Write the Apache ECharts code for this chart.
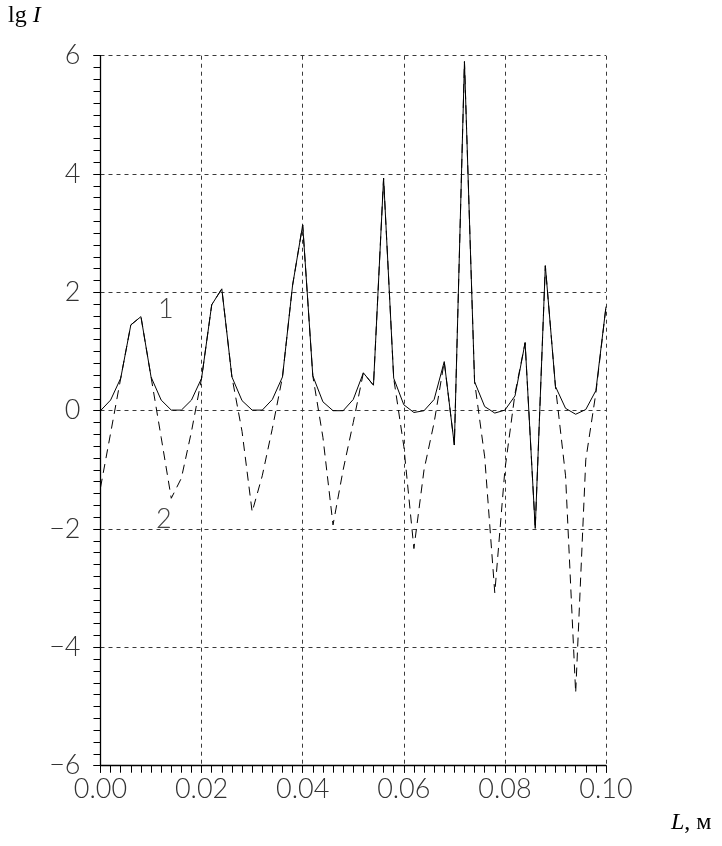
<!DOCTYPE html>
<html>
<head>
<meta charset="utf-8">
<script src="https://cdn.jsdelivr.net/npm/echarts@6/dist/echarts.min.js"></script>
<style>
html,body{margin:0;padding:0;background:#fff;}
#chart{width:722px;height:846px;}
</style>
</head>
<body>
<div id="chart"></div>
<script>
// L, m
const xValues = [0.000,0.002,0.004,0.006,0.008,0.010,0.012,0.014,0.016,0.018,
  0.020,0.022,0.024,0.026,0.028,0.030,0.032,0.034,0.036,0.038,
  0.040,0.042,0.044,0.046,0.048,0.050,0.052,0.054,0.056,0.058,
  0.060,0.062,0.064,0.066,0.068,0.070,0.072,0.074,0.076,0.078,
  0.080,0.082,0.084,0.086,0.088,0.090,0.092,0.094,0.096,0.098,0.100];
// curve 1 (solid)
const curve1 = [0.0,0.18,0.55,1.45,1.59,0.57,0.18,0.01,0.01,0.18,
  0.55,1.79,2.06,0.57,0.17,0.01,0.01,0.19,0.57,2.12,
  3.14,0.59,0.15,0.0,0.0,0.19,0.64,0.43,3.93,0.55,
  0.10,-0.03,0.0,0.19,0.83,-0.58,5.90,0.49,0.07,-0.04,
  0.01,0.25,1.15,-1.99,2.45,0.41,0.04,-0.06,0.02,0.34,1.76];
// curve 2 (dashed)
const curve2 = [-1.3,-0.38,0.55,1.45,1.59,0.57,-0.45,-1.48,-1.14,-0.35,
  0.55,1.79,2.06,0.57,-0.35,-1.71,-1.1,-0.3,0.57,2.12,
  3.14,0.59,-0.45,-1.93,-1.0,-0.2,0.64,0.43,3.93,0.55,
  -0.6,-2.33,-1.0,-0.2,0.83,-0.58,5.90,0.49,-0.78,-3.08,
  -1.0,0.29,1.15,-1.99,2.45,0.41,-1.1,-4.77,-0.83,0.3,1.76];
const curveNames = ['1','2'];

const chart = echarts.init(document.getElementById('chart'), null, {renderer:'canvas'});
const pairs = arr => xValues.map((x,i)=>[x, arr[i]]);
const tickFont = {fontFamily:'Lato', fontWeight:300, fontSize:27, color:'#333'};
const gridLine = {show:true, lineStyle:{color:'#3a3a3a', type:[4,4], width:1}};
const axisLineStyle = {show:true, onZero:false, lineStyle:{color:'#000', width:1.3}};
const tickStyle = {show:true, inside:false, length:7, lineStyle:{color:'#000', width:1}};
const gridBox = {left:100.5, right:116, top:55.7, bottom:80.3, containLabel:false};

chart.setOption({
  animation:false,
  backgroundColor:'#fff',
  grid:[Object.assign({}, gridBox), Object.assign({}, gridBox)],
  xAxis:[{
    gridIndex:0, type:'value', min:0, max:0.1, interval:0.02, position:'bottom',
    axisLine:axisLineStyle, axisTick:tickStyle,
    splitLine:gridLine,
    axisLabel:Object.assign({margin:10, formatter:v=>v.toFixed(2)}, tickFont)
  },{
    // minor ticks every 2 mm (0.002 m)
    gridIndex:1, type:'value', min:0, max:100, interval:2, position:'bottom',
    axisLine:{show:true, onZero:false, lineStyle:{color:'rgba(0,0,0,0)'}},
    axisTick:tickStyle,
    splitLine:{show:false}, axisLabel:{show:false}
  }],
  yAxis:[{
    gridIndex:0, type:'value', min:-6, max:6, interval:2, position:'left',
    axisLine:axisLineStyle, axisTick:tickStyle,
    splitLine:gridLine,
    axisLabel:Object.assign({margin:20, formatter:v=>v<0?('\u2212'+Math.abs(v)):String(v)}, tickFont)
  },{
    // minor ticks every 0.2
    gridIndex:1, type:'value', min:-60, max:60, interval:2, position:'left',
    axisLine:{show:true, onZero:false, lineStyle:{color:'rgba(0,0,0,0)'}},
    axisTick:tickStyle,
    splitLine:{show:false}, axisLabel:{show:false}
  }],
  series:[
    {name:curveNames[0], type:'line', xAxisIndex:0, yAxisIndex:0, data:pairs(curve1), symbol:'none', z:3,
     lineStyle:{color:'#000', width:1, type:'solid'}},
    {name:curveNames[1], type:'line', xAxisIndex:0, yAxisIndex:0, data:pairs(curve2), symbol:'none', z:2,
     lineStyle:{color:'#000', width:1, type:[9,6]}}
  ],
  graphic:[
    {type:'text', left:8, top:4, style:{rich:{a:{fontFamily:'Liberation Serif', fontSize:24, fill:'#000'}, b:{fontFamily:'Liberation Serif', fontStyle:'italic', fontSize:24, fill:'#000'}}, text:'{a|lg }{b|I}'}},
    {type:'text', left:671, top:811, style:{rich:{a:{fontFamily:'Liberation Serif', fontSize:24, fill:'#000'}, b:{fontFamily:'Liberation Serif', fontStyle:'italic', fontSize:24, fill:'#000'}}, text:'{b|L}{a|, м}'}},
    {type:'text', left:158, top:296, style:{text:curveNames[0], fontFamily:'Lato', fontWeight:300, fontSize:27, fill:'#444'}},
    {type:'text', left:156, top:506, style:{text:curveNames[1], fontFamily:'Lato', fontWeight:300, fontSize:27, fill:'#444'}}
  ]
});
</script>
</body>
</html>
